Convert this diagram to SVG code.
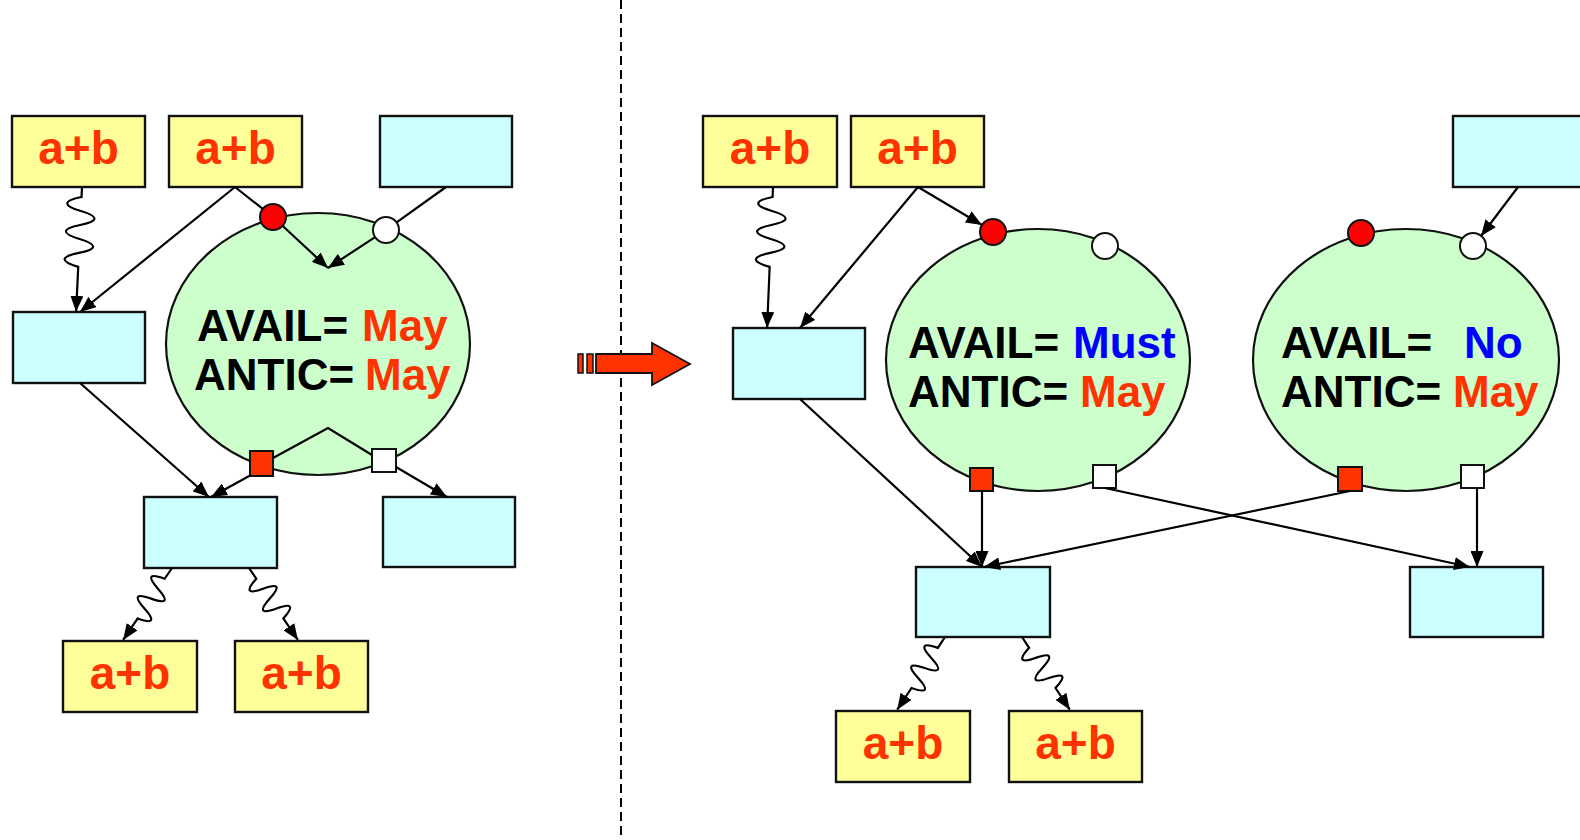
<svg xmlns="http://www.w3.org/2000/svg" width="1580" height="840" viewBox="0 0 1580 840">
  <style>
    .y { fill: #FFFF99; stroke: #111; stroke-width: 2.4; }
    .b { fill: #CCFFFF; stroke: #111; stroke-width: 2.4; }
    .g { fill: #CCFFCC; stroke: #111; stroke-width: 2.2; }
    .pr { fill: #FF0000; stroke: #111; stroke-width: 2; }
    .pw { fill: #FFFFFF; stroke: #111; stroke-width: 2; }
    .sr { fill: #FF3300; stroke: #111; stroke-width: 2; }
    .sw { fill: #FFFFFF; stroke: #111; stroke-width: 2; }
    .ab { font-family: "Liberation Sans", Arial, sans-serif; font-weight: bold; font-size: 46px; fill: #FF3300; text-anchor: middle; }
    .st { font-family: "Liberation Sans", Arial, sans-serif; font-weight: bold; font-size: 44px; fill: #000; }
    .may { fill: #FF3300; }
    .blu { fill: #0000FF; }
    .c { fill: none; stroke: #000; stroke-width: 2.2; }
    .ca { fill: none; stroke: #000; stroke-width: 2.2; marker-end: url(#ah); }
  </style>
  <defs>
    <marker id="ah" markerUnits="userSpaceOnUse" markerWidth="17" markerHeight="13" refX="16" refY="6.5" orient="auto">
      <path d="M0,0 L16,6.5 L0,13 z" fill="#000"/>
    </marker>
  </defs>

  <!-- separator -->
  <line x1="621" y1="0" x2="621" y2="840" stroke="#000" stroke-width="2" stroke-dasharray="9 5"/>

  <!-- transformation arrow -->
  <g id="big-arrow">
    <rect x="578" y="354" width="5" height="19" fill="#FF3300" stroke="#111" stroke-width="1.5"/>
    <rect x="587" y="354" width="6" height="19" fill="#FF3300" stroke="#111" stroke-width="1.5"/>
    <polygon points="596,354 652,354 652,343 690,364 652,385 652,373 596,373" fill="#FF3300" stroke="#111" stroke-width="1.8"/>
  </g>

  <!-- ===== before ===== -->
  <g id="L-ab1"><rect class="y" x="12" y="116" width="133" height="71"/><text class="ab" x="78.5" y="164">a+b</text></g>
  <g id="L-ab2"><rect class="y" x="169" y="116" width="133" height="71"/><text class="ab" x="235.5" y="164">a+b</text></g>
  <g id="L-top"><rect class="b" x="380" y="116" width="132" height="71"/></g>
  <g id="L-left"><rect class="b" x="13" y="312" width="132" height="71"/></g>
  <g id="L-mid"><rect class="b" x="144" y="497" width="133" height="71"/></g>
  <g id="L-right"><rect class="b" x="383" y="497" width="132" height="70"/></g>
  <g id="L-ab3"><rect class="y" x="63" y="641" width="134" height="71"/><text class="ab" x="130" y="689">a+b</text></g>
  <g id="L-ab4"><rect class="y" x="235" y="641" width="133" height="71"/><text class="ab" x="301.5" y="689">a+b</text></g>

  <g id="L-block">
    <ellipse class="g" cx="318" cy="344" rx="152" ry="131"/>
    <text class="st" x="197" y="341">AVAIL=<tspan class="may" x="362">May</tspan></text>
    <text class="st" x="194" y="390">ANTIC=<tspan class="may" x="365">May</tspan></text>
    <circle class="pr" cx="273" cy="217" r="13"/>
    <circle class="pw" cx="386" cy="230" r="13"/>
    <rect class="sr" x="250" y="451" width="23" height="25"/>
    <rect class="sw" x="372" y="449" width="24" height="23"/>
  </g>

  <!-- ===== after ===== -->
  <g id="R-ab1"><rect class="y" x="703" y="116" width="134" height="71"/><text class="ab" x="770" y="164">a+b</text></g>
  <g id="R-ab2"><rect class="y" x="851" y="116" width="133" height="71"/><text class="ab" x="917.5" y="164">a+b</text></g>
  <g id="R-top"><rect class="b" x="1453" y="116" width="140" height="71"/></g>
  <g id="R-left"><rect class="b" x="733" y="328" width="132" height="71"/></g>
  <g id="R-mid"><rect class="b" x="916" y="567" width="134" height="70"/></g>
  <g id="R-right"><rect class="b" x="1410" y="567" width="133" height="70"/></g>
  <g id="R-ab3"><rect class="y" x="836" y="711" width="134" height="71"/><text class="ab" x="903" y="759">a+b</text></g>
  <g id="R-ab4"><rect class="y" x="1009" y="711" width="133" height="71"/><text class="ab" x="1075.5" y="759">a+b</text></g>

  <g id="R-block1">
    <ellipse class="g" cx="1038" cy="360" rx="152" ry="131"/>
    <text class="st" x="908" y="358">AVAIL=<tspan class="blu" x="1073">Must</tspan></text>
    <text class="st" x="908" y="407">ANTIC=<tspan class="may" x="1080">May</tspan></text>
    <circle class="pr" cx="993" cy="232" r="13"/>
    <circle class="pw" cx="1105" cy="246" r="13"/>
    <rect class="sr" x="970" y="468" width="23" height="23"/>
    <rect class="sw" x="1093" y="465" width="23" height="23"/>
  </g>

  <g id="R-block2">
    <ellipse class="g" cx="1406" cy="360" rx="153" ry="131"/>
    <text class="st" x="1281" y="358">AVAIL=<tspan class="blu" x="1464">No</tspan></text>
    <text class="st" x="1281" y="407">ANTIC=<tspan class="may" x="1453">May</tspan></text>
    <circle class="pr" cx="1361" cy="233" r="13"/>
    <circle class="pw" cx="1473" cy="246" r="13"/>
    <rect class="sr" x="1338" y="467" width="24" height="24"/>
    <rect class="sw" x="1461" y="465" width="23" height="23"/>
  </g>

  <!-- connectors -->
  <g id="connectors">
    <!-- before -->
    <path class="ca" transform="translate(82,187) rotate(92.7)" d="M0,0 L10,0 Q17,28 24,0 T38,0 T52,0 T66,0 T80,0 L125,0"/>
    <line class="ca" x1="235" y1="187" x2="80" y2="312"/>
    <line class="c" x1="235" y1="187" x2="262.8" y2="208.9"/>
    <line class="c" x1="446" y1="187" x2="396.6" y2="222.4"/>
    <line class="ca" x1="282.5" y1="225.8" x2="328" y2="268"/>
    <line class="ca" x1="375.1" y1="237.1" x2="328" y2="268"/>
    <polyline class="c" points="273,458 328,428 372,455"/>
    <line class="ca" x1="80" y1="383" x2="209" y2="497"/>
    <line class="ca" x1="251" y1="475" x2="211" y2="497"/>
    <line class="ca" x1="396" y1="467" x2="447" y2="497"/>
    <path class="ca" transform="translate(172,568) rotate(124.2)" d="M0,0 L13,0 Q19,24 25,0 T37,0 T49,0 T61,0 L87,0"/>
    <path class="ca" transform="translate(249,568) rotate(55.8)" d="M0,0 L13,0 Q19,24 25,0 T37,0 T49,0 T61,0 L87,0"/>

    <!-- after -->
    <path class="ca" transform="translate(773,187) rotate(92.4)" d="M0,0 L10,0 Q17,28 24,0 T38,0 T52,0 T66,0 T80,0 L141,0"/>
    <line class="ca" x1="918" y1="187" x2="800" y2="328"/>
    <line class="ca" x1="918" y1="187" x2="982" y2="225"/>
    <line class="ca" x1="1518" y1="187" x2="1481" y2="236"/>
    <line class="ca" x1="800" y1="399" x2="982" y2="567"/>
    <line class="ca" x1="982" y1="491" x2="982" y2="567"/>
    <line class="ca" x1="1350" y1="491" x2="984" y2="567"/>
    <line class="ca" x1="1105" y1="488" x2="1470" y2="567"/>
    <line class="ca" x1="1477" y1="488" x2="1477" y2="567"/>
    <path class="ca" transform="translate(945,637) rotate(123.3)" d="M0,0 L13,0 Q19,24 25,0 T37,0 T49,0 T61,0 L87,0"/>
    <path class="ca" transform="translate(1022,637) rotate(56.7)" d="M0,0 L13,0 Q19,24 25,0 T37,0 T49,0 T61,0 L87,0"/>
  </g>
</svg>
